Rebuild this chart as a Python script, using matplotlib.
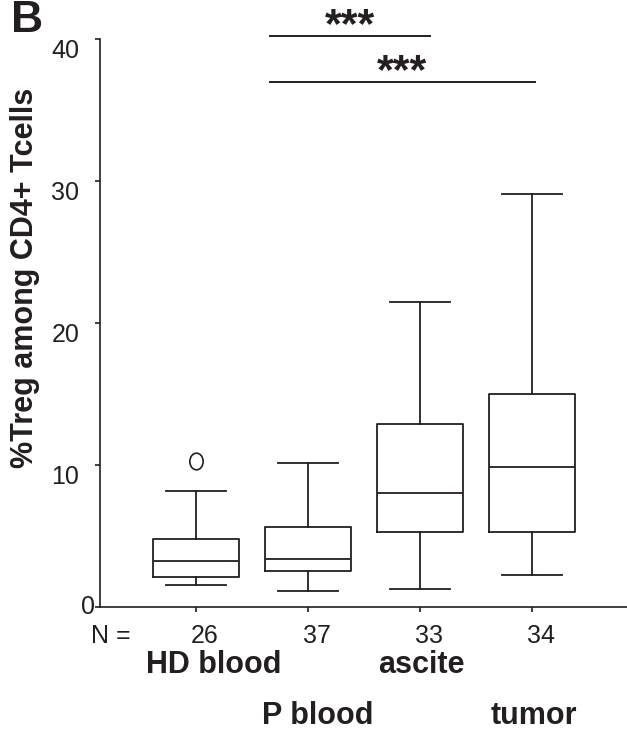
import numpy as np
import matplotlib
matplotlib.use("Agg")
import matplotlib.pyplot as plt
from matplotlib.path import Path
from matplotlib.transforms import Affine2D

plt.rcParams['font.family'] = ['Liberation Sans', 'DejaVu Sans']

# data (%Treg among CD4+ T cells)
groups = ['HD blood', 'P blood', 'ascite', 'tumor']
n_counts = [26, 37, 33, 34]
q1 = [2.15, 2.54, 5.28, 5.28]
medians = [3.26, 3.42, 8.03, 9.90]
q3 = [4.79, 5.63, 12.89, 15.0]
whis_lo = [1.55, 1.15, 1.29, 2.30]
whis_hi = [8.17, 10.14, 21.5, 29.1]
outliers = [[10.32], [], [], []]
yticks = [0, 10, 20, 30, 40]

# significance bars: (x start, x end, y, label)
sig_bars = [(1.66, 3.09, 40.23, '***'), (1.66, 4.03, 37.03, '***')]

ink = '#231f20'

fig = plt.figure(figsize=(6.27, 7.31), dpi=100)
ax = fig.add_axes([0.1587, 0.1692, 0.8413, 0.777])

stats = []
for i in range(len(groups)):
    stats.append({'med': medians[i], 'q1': q1[i], 'q3': q3[i],
                  'whislo': whis_lo[i], 'whishi': whis_hi[i],
                  'fliers': outliers[i]})

oval = Path.unit_circle().transformed(Affine2D().scale(0.8, 1.0))
positions = np.arange(1, len(groups) + 1)
line = dict(color=ink, linewidth=1.3)
ax.bxp(stats, positions=positions, widths=0.77, capwidths=0.535,
       boxprops=line, whiskerprops=line, capprops=line,
       medianprops=line,
       flierprops=dict(marker=oval, markersize=12, markerfacecolor='none',
                       markeredgecolor=ink, markeredgewidth=1.2))

ax.set_xlim(0.14, 4.85)
ax.set_ylim(0, 40)
ax.spines['top'].set_visible(False)
ax.spines['right'].set_visible(False)
for s in ['left', 'bottom']:
    ax.spines[s].set_color(ink)
    ax.spines[s].set_linewidth(1.2)
ax.set_xticks(positions)
ax.set_xticklabels([])
ax.set_yticks(yticks)
ax.set_yticklabels([])
ax.tick_params(direction='out', length=3.6, width=1.2, color=ink)

# y tick labels sit a bit below their ticks, as in the original
for v in yticks:
    if v == 0:
        ax.annotate(str(v), xy=(0, v), xycoords=('axes fraction', 'data'),
                    xytext=(-3.5, 0), textcoords='offset points',
                    ha='right', va='center', fontsize=18, color=ink)
    else:
        ax.annotate(str(v), xy=(0, v), xycoords=('axes fraction', 'data'),
                    xytext=(-14.5, 0), textcoords='offset points',
                    ha='right', va='top', fontsize=18, color=ink)

# N counts and group names below the axis
tr = ax.get_xaxis_transform()
ax.text(0.244, -0.0634, 'N =', transform=tr, ha='center', va='baseline',
        fontsize=18, color=ink)
for p, n in zip(positions, n_counts):
    ax.text(p + 0.08, -0.0634, str(n), transform=tr, ha='center',
            va='baseline', fontsize=18, color=ink)

name_shift = [0.16, 0.09, 0.01, 0.02]
name_row = [-0.1162, -0.206, -0.1162, -0.206]
for p, g, dx, yr in zip(positions, groups, name_shift, name_row):
    ax.text(p + dx, yr, g, transform=tr, ha='center', va='baseline',
            fontsize=22, fontweight='bold', color=ink)

for x0, x1, y, lab in sig_bars:
    ax.plot([x0, x1], [y, y], color=ink, linewidth=1.4, clip_on=False)
    ax.text((x0 + x1) / 2, y - 0.1, lab, ha='center', va='baseline',
            fontsize=31, fontweight='bold', color=ink, clip_on=False)

fig.text(25 / 627, 0.62, '%Treg among CD4+ Tcells', rotation=90,
         ha='center', va='center', fontsize=22, fontweight='bold', color=ink)
fig.text(11 / 627, (731 - 32) / 731, 'B', fontsize=32, fontweight='bold',
         va='baseline', ha='left', color=ink)

fig.savefig('out.png', dpi=100)
